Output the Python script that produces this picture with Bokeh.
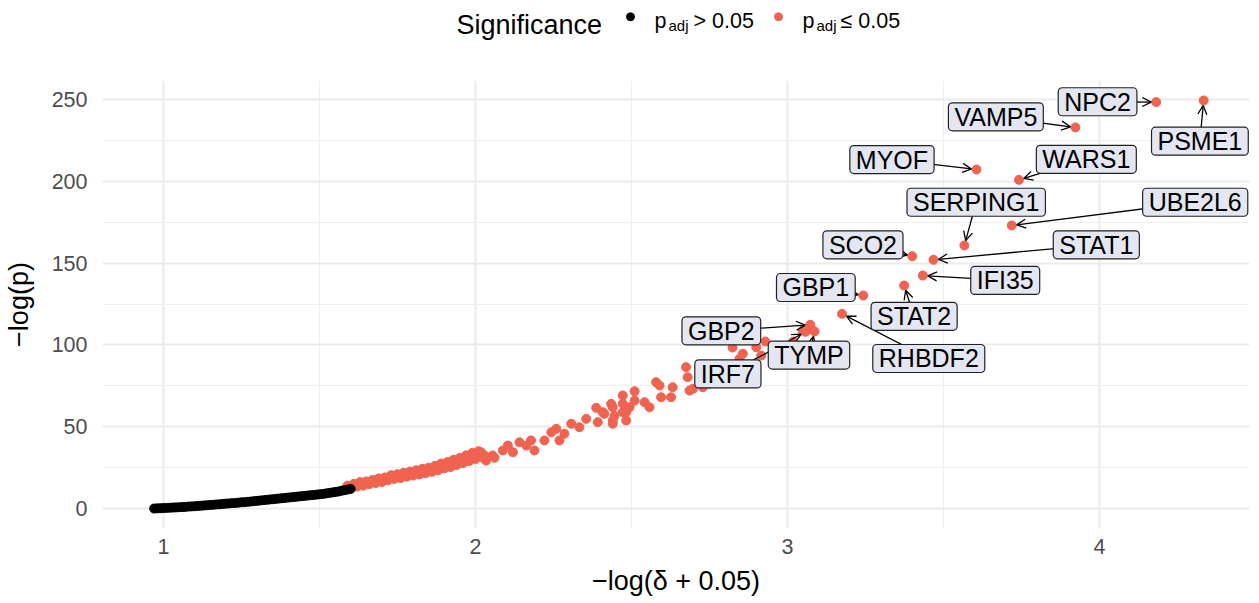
import math
from bokeh.plotting import figure
from bokeh.models import Arrow, OpenHead, Label, SingleIntervalTicker, Range1d
from bokeh.layouts import column
from bokeh.embed import file_html
from bokeh.resources import INLINE
from bokeh.core.properties import value

# ---------------- data ----------------
black_x = [0.97, 0.98, 0.99, 1.00, 1.01, 1.02, 1.03, 1.04, 1.05, 1.06, 1.07, 1.08, 1.09, 1.10,
           1.11, 1.12, 1.13, 1.14, 1.15, 1.16, 1.17, 1.18, 1.19, 1.20, 1.21, 1.22, 1.23, 1.24,
           1.25, 1.26, 1.27, 1.28, 1.29, 1.30, 1.31, 1.32, 1.33, 1.34, 1.35, 1.36, 1.37, 1.38,
           1.39, 1.40, 1.41, 1.42, 1.43, 1.44, 1.45, 1.46, 1.47, 1.48, 1.49, 1.50, 1.51, 1.52,
           1.53, 1.54, 1.55, 1.56, 1.57, 1.58, 1.59, 1.60]
black_y = [0.0, 0.1, 0.2, 0.3, 0.4, 0.5, 0.6, 0.7, 0.8, 0.9, 1.0, 1.2, 1.3, 1.4,
           1.6, 1.7, 1.9, 2.0, 2.2, 2.3, 2.5, 2.6, 2.8, 3.0, 3.1, 3.3, 3.4, 3.6,
           3.8, 3.9, 4.1, 4.3, 4.5, 4.7, 4.9, 5.1, 5.3, 5.5, 5.7, 5.9, 6.1, 6.3,
           6.5, 6.7, 6.9, 7.1, 7.3, 7.5, 7.7, 7.9, 8.1, 8.3, 8.5, 8.7, 8.9, 9.2,
           9.5, 9.8, 10.1, 10.4, 10.8, 11.2, 11.6, 12.0]

red_x = [1.58, 1.59, 1.60, 1.61, 1.62, 1.63, 1.64, 1.65, 1.66, 1.67, 1.68, 1.69, 1.70, 1.71,
         1.72, 1.73, 1.74, 1.75, 1.76, 1.77, 1.78, 1.79, 1.80, 1.81, 1.82, 1.83, 1.84, 1.85,
         1.86, 1.87, 1.88, 1.89, 1.90, 1.91, 1.92, 1.93, 1.94, 1.95, 1.96, 1.97, 1.98, 1.99,
         2.00, 2.01, 2.02,
         2.018, 2.034, 2.055, 2.029, 2.061, 2.088, 2.104, 2.120, 2.141, 2.163, 2.178, 2.189,
         2.221, 2.243, 2.259, 2.269, 2.285, 2.307, 2.333, 2.355, 2.387, 2.392, 2.413, 2.435,
         2.440, 2.446, 2.472, 2.483, 2.494, 2.510,
         2.408, 2.440, 2.440, 2.472, 2.472, 2.483, 2.510, 2.542, 2.558, 2.579, 2.595, 2.590,
         2.627, 2.632, 2.675, 2.680, 2.686, 2.729, 2.750, 2.697,
         2.824, 2.857, 2.916, 2.929, 3.019, 2.846, 2.900, 3.049, 3.076]
red_y = [11.8, 14.0, 12.6, 15.1, 13.4, 16.2, 14.0, 16.6, 14.9, 17.5, 15.6, 18.4, 16.2, 19.0,
         17.3, 20.4, 18.1, 21.0, 18.6, 21.9, 19.5, 22.6, 20.2, 23.4, 20.8, 24.3, 21.6, 25.0,
         22.5, 26.1, 23.4, 27.5, 24.6, 28.4, 25.4, 29.8, 26.6, 31.0, 27.8, 32.5, 29.0, 34.0,
         30.3, 35.0, 31.4,
         34.4, 29.3, 32.4, 32.4, 31.0, 35.5, 38.5, 34.4, 40.5, 38.5, 41.6, 35.5,
         41.6, 46.6, 48.7, 41.6, 45.7, 51.8, 49.7, 54.8, 61.6, 52.8, 57.9, 64.0,
         51.8, 56.8, 69.1, 58.9, 61.9, 71.7,
         58.9, 61.9, 53.8, 64.0, 58.9, 53.8, 66.0, 65.0, 61.9, 77.2, 68.0, 75.2,
         68.0, 74.1, 86.4, 80.3, 72.1, 74.1, 76.2, 73.2,
         98.4, 94.6, 93.5, 102.1, 102.1, 91.5, 98.6, 108.8, 109.8]

genes = ["NPC2", "PSME1", "VAMP5", "MYOF", "WARS1", "UBE2L6", "SERPING1", "SCO2",
         "STAT1", "IFI35", "GBP1", "STAT2", "RHBDF2", "GBP2", "TYMP", "IRF7"]
gene_x = [4.182, 4.334, 3.923, 3.606, 3.742, 3.719, 3.567, 3.400,
          3.468, 3.434, 3.243, 3.374, 3.175, 3.073, 3.087, 3.058]
gene_y = [248.4, 249.4, 232.9, 207.2, 200.9, 173.0, 160.8, 154.2,
          152.0, 142.4, 130.2, 136.3, 119.0, 112.3, 108.2, 108.0]
# repelled label positions (data units)
label_x = [3.994, 4.322, 3.668, 3.335, 3.958, 4.307, 3.605, 3.242,
           3.990, 3.698, 3.091, 3.406, 3.453, 2.788, 3.069, 2.809]
label_y = [248.6, 224.5, 239.4, 213.3, 213.4, 187.2, 187.2, 161.2,
           161.2, 139.4, 135.1, 117.5, 91.7, 108.6, 93.8, 82.3]

legend_title = "Significance"
legend_labels = ["> 0.05", "\u2264 0.05"]

# ---------------- styling ----------------
FONT = "Liberation Sans"
RED = "#EF6350"
X_RANGE = (0.8045, 4.481)
Y_RANGE = (-12.2, 261.6)
FW, FH = 1147, 448
BL, BR = 90, 6
LEG_H = 80

p = figure(frame_width=FW, frame_height=FH,
           x_range=Range1d(*X_RANGE), y_range=Range1d(*Y_RANGE),
           output_backend="svg", toolbar_location=None,
           min_border_left=BL, min_border_right=BR, min_border_top=0, min_border_bottom=67)
p.outline_line_color = None
p.background_fill_color = "white"

p.xaxis.ticker = SingleIntervalTicker(interval=1, num_minor_ticks=2)
p.yaxis.ticker = SingleIntervalTicker(interval=50, num_minor_ticks=2)
p.axis.axis_line_color = None
p.axis.major_tick_line_color = None
p.axis.minor_tick_line_color = None
p.axis.major_label_text_font = FONT
p.axis.major_label_text_font_size = "21.5px"
p.axis.major_label_text_color = "#4D4D4D"
p.yaxis.major_label_standoff = 9
p.xaxis.major_label_standoff = 4
p.xaxis.axis_label = "\u2212log(\u03b4 + 0.05)"
p.yaxis.axis_label = "\u2212log(p)"
p.axis.axis_label_text_font = FONT
p.axis.axis_label_text_font_size = "27px"
p.axis.axis_label_text_font_style = "normal"
p.axis.axis_label_text_color = "black"
p.xaxis.axis_label_standoff = 9
p.yaxis.axis_label_standoff = 15

p.grid.grid_line_color = "#EBEBEB"
p.grid.grid_line_width = 2
p.grid.minor_grid_line_color = "#EFEFEF"
p.grid.minor_grid_line_width = 1.2

p.scatter(red_x + gene_x, red_y + gene_y, size=9, color=RED)
p.scatter(black_x, black_y, size=9, color="black")

sx = FW / (X_RANGE[1] - X_RANGE[0])
sy = FH / (Y_RANGE[1] - Y_RANGE[0])
for g, gx, gy, lx, ly in zip(genes, gene_x, gene_y, label_x, label_y):
    dx = (gx - lx) * sx
    dy = (gy - ly) * sy
    d = math.hypot(dx, dy)
    shrink = 5.0
    ex = gx - dx / d * shrink / sx
    ey = gy - dy / d * shrink / sy
    p.add_layout(Arrow(x_start=lx, y_start=ly, x_end=ex, y_end=ey,
                       line_color="black", line_width=1.3,
                       end=OpenHead(size=9, line_width=1.3, line_color="black")))

for g, lx, ly in zip(genes, label_x, label_y):
    p.add_layout(Label(x=lx, y=ly, text=g, text_font=FONT, text_font_size="25px",
                       text_align="center", text_baseline="middle", text_color="black",
                       background_fill_color="#E4E7F1", border_line_color="#222222",
                       border_line_width=1.2, padding=(6, 0), border_radius=4))

# ---------------- legend strip on top (same frame geometry as the plot) ----------------
FRAME_LEFT_PAGE = 103


def lx_(page_x):
    return X_RANGE[0] + (page_x - FRAME_LEFT_PAGE) / sx


def ly_(page_y):
    return LEG_H - page_y + 8


lg = figure(frame_width=FW, frame_height=LEG_H, x_range=Range1d(*X_RANGE),
            y_range=Range1d(0, LEG_H), x_axis_type=None, y_axis_type=None,
            output_backend="svg", toolbar_location=None,
            min_border_left=BL, min_border_right=BR, min_border_top=0, min_border_bottom=0)
lg.outline_line_color = None
lg.text(x=[lx_(457)], y=[ly_(32)], text=[legend_title], text_font=value(FONT),
        text_font_size="27px", text_baseline="alphabetic", text_color="black")
lg.scatter(x=[lx_(631)], y=[ly_(24.3)], size=8, color="black")
lg.scatter(x=[lx_(779)], y=[ly_(24.3)], size=8, color=RED)
lg.text(x=[lx_(655), lx_(803)], y=[ly_(28.3)] * 2, text=["p", "p"], text_font=value(FONT),
        text_font_size="21.5px", text_baseline="alphabetic", text_color="black")
lg.text(x=[lx_(669), lx_(817)], y=[ly_(33)] * 2, text=["adj", "adj"], text_font=value(FONT),
        text_font_size="15px", text_baseline="alphabetic", text_color="black")
lg.text(x=[lx_(694), lx_(841)], y=[ly_(28.3)] * 2, text=legend_labels, text_font=value(FONT),
        text_font_size="21.5px", text_baseline="alphabetic", text_color="black")

layout = column(lg, p, spacing=0)
open("out.html", "w").write(file_html(layout, INLINE))
